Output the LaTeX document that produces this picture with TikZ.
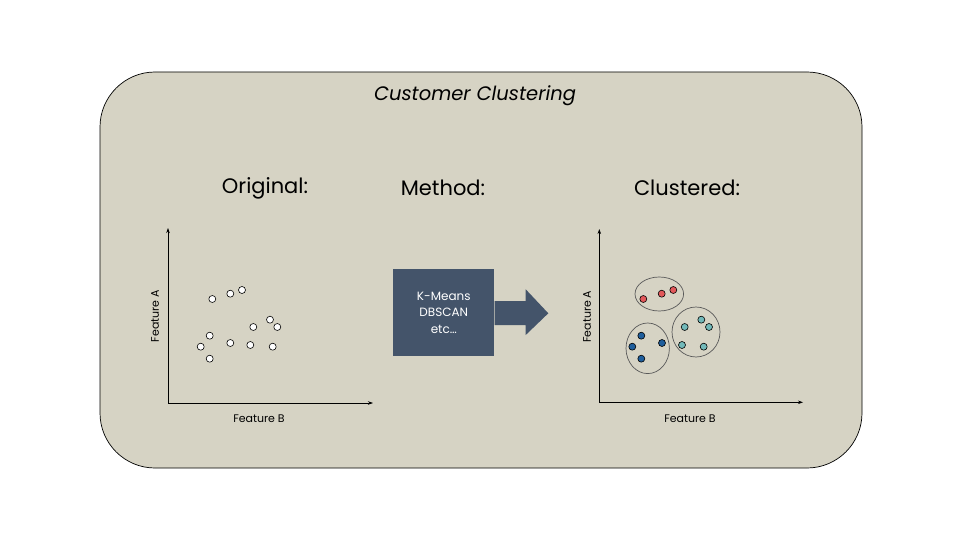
\documentclass[tikz,border=0pt]{standalone}
\usepackage{fontspec}
\setmainfont{Poppins}
\usetikzlibrary{arrows.meta,calc,positioning}
\definecolor{panel}{HTML}{D6D3C4}
\definecolor{slate}{HTML}{44546A}
\definecolor{redpt}{HTML}{E2585A}
\definecolor{bluept}{HTML}{1F5E9C}
\definecolor{tealpt}{HTML}{72B9B9}
\begin{document}
\begin{tikzpicture}[>={Stealth[length=5pt,width=3.5pt]}, x=1pt, y=-1pt, line join=round,
	dot/.style={circle, draw=black, line width=0.6pt, inner sep=0pt, minimum size=7pt},
	heading/.style={font=\fontsize{21}{24}\selectfont},
	axislabel/.style={font=\fontsize{11}{13}\selectfont},
	group/.style={draw=black!65, line width=0.7pt}]
	
	\useasboundingbox (0,0) rectangle (960,540);
	\fill[white] (0,0) rectangle (960,540);
	
	% background panel
	\draw[fill=panel, line width=0.7pt, rounded corners=55pt] (100,72) rectangle (862,468);
	\node[font=\fontsize{19.5}{22}\itshape] (title) at (475,96) {Customer Clustering};
	
	% column headings
	\node[heading] (orig) at (265,188) {Original:};
	\node[heading] (meth) at (443,188) {Method:};
	\node[heading] (clus) at (687,188) {Clustered:};
	
	% Left: original data
	\begin{scope}
		\coordinate (O1) at (168,403);
		\coordinate (Y1) at (168,228);
		\coordinate (X1) at (373,403);
		\draw[->, line width=0.7pt] (O1) -- (Y1);
		\draw[->, line width=0.7pt] (O1) -- (X1);
		\node[axislabel, rotate=90] (fa1) at (155,316) {Feature A};
		\node[axislabel] (fb1) at (259,419) {Feature B};
		\foreach \x/\y [count=\i] in {212.3/299, 230.3/293.7, 242/290, 270/319.7, 277.3/327, 253.3/327,
			209.7/335.7, 200.7/346.7, 230.3/343, 250.3/345, 272.7/346.7, 209.7/358.7}
			\node[dot, fill=white] (p\i) at (\x,\y) {};
	\end{scope}
	
	% Middle: method box with arrow
	\node[fill=slate, text=white, minimum width=101pt, minimum height=87pt, align=center,
		font=\fontsize{12}{16.7}\selectfont] (algo) at (443.8,312.7) {K-Means\\DBSCAN\\etc\ldots};
	\fill[slate] (algo.east |- 0,301) -- (525.7,301) -- (525.7,289.3) -- (548.3,313.3)
		-- (525.7,335) -- (525.7,325) -- (algo.east |- 0,325) -- cycle;
	
	% Right: clustered data
	\begin{scope}
		\coordinate (O2) at (599.3,402.3);
		\coordinate (Y2) at (599.3,229);
		\coordinate (X2) at (803,402.3);
		\draw[->, line width=0.7pt] (O2) -- (Y2);
		\draw[->, line width=0.7pt] (O2) -- (X2);
		\node[axislabel, rotate=90] (fa2) at (587,316.7) {Feature A};
		\node[axislabel] (fb2) at (690,419) {Feature B};
		
		% cluster outlines
		\draw[group] (659.3,294) ellipse (24.3 and 17);
		\draw[group] (647.7,348.3) ellipse (21.7 and 25.3);
		\draw[group] (696,332) ellipse (24 and 25);
		
		\foreach \x/\y [count=\i] in {643.3/299, 661.7/293.7, 673.3/290}
			\node[dot, fill=redpt] (r\i) at (\x,\y) {};
		\foreach \x/\y [count=\i] in {641.3/335.7, 632.3/346.7, 662/343, 641.3/358.7}
			\node[dot, fill=bluept] (b\i) at (\x,\y) {};
		\foreach \x/\y [count=\i] in {684.7/327, 701.3/319.7, 709/327, 682/345, 703.7/346.7}
			\node[dot, fill=tealpt] (t\i) at (\x,\y) {};
	\end{scope}
	
\end{tikzpicture}
\end{document}
